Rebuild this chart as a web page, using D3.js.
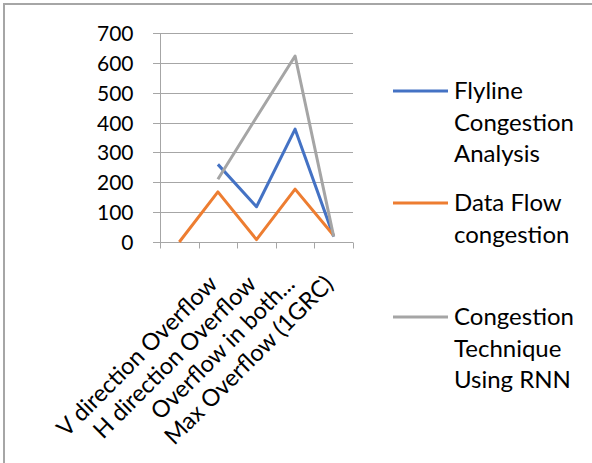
<!DOCTYPE html>
<meta charset="utf-8">
<style>
body { margin: 0; background: #fff; }
svg { font-family: Lato, "Open Sans", sans-serif; }
.grid line { stroke: #a6a6a6; stroke-width: 1px; }
.axis text { fill: #000; }
.legend text { font-size: 24px; fill: #000; }
</style>
<svg width="592" height="463"></svg>
<script src="https://d3js.org/d3.v7.min.js"></script>
<script>
// categories (first one has no label)
var categories = ["", "V direction Overflow", "H direction Overflow", "Overflow in both...", "Max Overflow (1GRC)"];
var yTicks = [0, 100, 200, 300, 400, 500, 600, 700];

// series values
var flyline = [null, 260, 118, 378, 18];
var dataFlow = [0, 168, 8, 177, 22];
var rnn = [null, 210, 418, 623, 18];

var seriesColors = ["#4472c4", "#ed7d31", "#a5a5a5"];

var series = [
  {values: flyline, color: seriesColors[0], lines: ["Flyline", "Congestion", "Analysis"]},
  {values: dataFlow, color: seriesColors[1], lines: ["Data Flow", "congestion"]},
  {values: rnn, color: seriesColors[2], lines: ["Congestion", "Technique", "Using RNN"]}
];

var svg = d3.select("svg");

// frame lines (only top and left fall inside the picture)
svg.append("line").attr("x1", 3).attr("x2", 592).attr("y1", 4).attr("y2", 4)
  .attr("stroke", "#a6a6a6").attr("stroke-width", 2);
svg.append("line").attr("x1", 4).attr("x2", 4).attr("y1", 3).attr("y2", 463)
  .attr("stroke", "#a6a6a6").attr("stroke-width", 2);

var plotLeft = 160, plotRight = 353, plotTop = 33, plotBottom = 242;

var x = d3.scaleBand().domain(d3.range(categories.length)).range([plotLeft, plotRight]);
var y = d3.scaleLinear().domain([0, 700]).range([plotBottom, plotTop]);

// gridlines
svg.append("g").attr("class", "grid")
  .selectAll("line").data(yTicks.slice(1)).enter().append("line")
  .attr("x1", plotLeft).attr("x2", plotRight)
  .attr("y1", d => Math.round(y(d)) + 0.5).attr("y2", d => Math.round(y(d)) + 0.5);

// y axis
var yAxis = svg.append("g").attr("class", "axis")
  .attr("transform", "translate(" + (plotLeft + 0.5) + ",0)")
  .call(d3.axisLeft(y).tickValues(yTicks).tickSize(0).tickPadding(27));
yAxis.select(".domain").remove();
yAxis.selectAll("text").attr("dy", "0.36em").style("font-size", "21px").style("font-family", "Lato");
svg.append("line").attr("x1", plotLeft + 0.5).attr("x2", plotLeft + 0.5)
  .attr("y1", plotTop).attr("y2", plotBottom).attr("stroke", "#a6a6a6");
// small ticks left of the value axis
svg.append("g").selectAll("line").data(yTicks).enter().append("line")
  .attr("x1", plotLeft - 7).attr("x2", plotLeft)
  .attr("y1", d => Math.round(y(d)) + 0.5).attr("y2", d => Math.round(y(d)) + 0.5)
  .attr("stroke", "#a6a6a6");

// x axis
var xAxis = svg.append("g").attr("class", "axis")
  .attr("transform", "translate(0," + (plotBottom + 0.5) + ")");
xAxis.append("line").attr("x1", plotLeft).attr("x2", plotRight).attr("stroke", "#a6a6a6");
xAxis.selectAll("line.tk").data(d3.range(categories.length + 1)).enter().append("line")
  .attr("class", "tk")
  .attr("x1", d => Math.round(plotLeft + d * x.step()) + 0.5)
  .attr("x2", d => Math.round(plotLeft + d * x.step()) + 0.5)
  .attr("y1", 0).attr("y2", 6).attr("stroke", "#a6a6a6");
xAxis.selectAll("text.lbl").data(categories).enter().append("text")
  .attr("class", "lbl")
  .attr("text-anchor", "end")
  .attr("transform", (d, i) => "translate(" + (x(i) + x.bandwidth() / 2 + 1) + ",43) rotate(-45)")
  .style("font-size", "23.5px")
  .text(d => d);

// lines
var line = d3.line()
  .defined(d => d != null)
  .x((d, i) => x(i) + x.bandwidth() / 2)
  .y(d => y(d));

svg.append("g").selectAll("path").data(series).enter().append("path")
  .attr("fill", "none")
  .attr("stroke", d => d.color)
  .attr("stroke-width", 3)
  .attr("stroke-linejoin", "round")
  .attr("d", d => line(d.values));

// legend
var legendY = [91, 203, 317];
var legend = svg.append("g").attr("class", "legend");
series.forEach(function(s, i) {
  var g = legend.append("g").attr("transform", "translate(0," + legendY[i] + ")");
  g.append("line").attr("x1", 393).attr("x2", 448).attr("y1", 0).attr("y2", 0)
    .attr("stroke", s.color).attr("stroke-width", 3);
  g.selectAll("text").data(s.lines).enter().append("text")
    .attr("x", 454).attr("y", (d, j) => j * 31.5).attr("dy", "0.35em")
    .text(d => d);
});
</script>
